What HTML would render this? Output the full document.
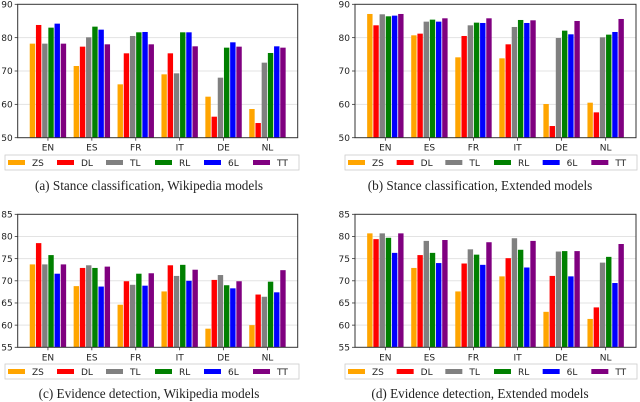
<!DOCTYPE html>
<html><head><meta charset="utf-8"><style>
body{margin:0;background:#fff;width:640px;height:402px;overflow:hidden}
svg{display:block}
</style></head><body>
<svg id="chart" width="640" height="402" xmlns="http://www.w3.org/2000/svg"></svg>
<script>
const categories = ["EN","ES","FR","IT","DE","NL"];
const seriesNames = ["ZS","DL","TL","RL","6L","TT"];
const seriesColors = ["#FFA500","#FF0000","#808080","#008000","#0000FF","#800080"];
const ticksA = [50,60,70,80,90];
const ticksC = [55,60,65,70,75,80,85];
const valuesA = [
 [78.2,71.5,66.0,69.0,62.3,58.6],
 [83.8,77.3,75.3,75.3,56.3,54.4],
 [78.2,80.1,80.5,69.3,68.0,72.5],
 [83.0,83.3,81.6,81.6,77.0,75.4],
 [84.2,82.4,81.7,81.6,78.6,77.4],
 [78.2,78.0,78.0,77.4,77.3,77.0]];
const valuesB = [
 [87.1,80.7,74.1,73.8,60.1,60.5],
 [83.7,81.2,80.5,78.0,53.5,57.6],
 [87.0,84.8,83.7,83.2,79.9,80.1],
 [86.4,85.4,84.5,85.3,82.1,80.9],
 [86.6,84.8,84.4,84.4,81.0,81.7],
 [87.1,85.8,85.8,85.2,85.0,85.6]];
const valuesC = [
 [73.7,68.8,64.6,67.6,59.2,60.0],
 [78.5,72.9,69.9,73.5,70.2,66.9],
 [73.7,73.5,69.1,71.1,71.3,66.4],
 [75.8,72.9,71.6,73.6,69.0,69.8],
 [71.6,68.7,68.9,70.0,68.3,67.4],
 [73.7,73.2,71.7,72.5,69.9,72.4]];
const valuesD = [
 [80.7,72.9,67.6,71.0,63.0,61.4],
 [79.4,75.8,73.9,75.1,71.1,64.0],
 [80.7,79.0,77.1,79.6,76.6,74.1],
 [79.7,76.3,75.9,77.0,76.7,75.4],
 [76.3,74.0,73.6,73.0,71.0,69.5],
 [80.7,79.2,78.7,79.0,76.7,78.3]];

const NS="http://www.w3.org/2000/svg";
const svg=document.getElementById('chart');
function mk(tag,attrs,parent){const e=document.createElementNS(NS,tag);for(const k in attrs)e.setAttribute(k,attrs[k]);(parent||svg).appendChild(e);return e;}

function panel(id,L,R,T,B,ticks,values,legY,legL,legR,caption,capX,capY){
  const g=mk('g',{});
  
  
  const ymin=ticks[0],ymax=ticks[ticks.length-1];
  const y=v=>B-(v-ymin)/(ymax-ymin)*(B-T);
  const W=R-L, pad=W*0.108, step=(W-2*pad)/(categories.length-1);
  const x=i=>L+pad+i*step;
  const bw=6.2;
  ticks.forEach(t=>{
    if(t!==ymin&&t!==ymax){const gl=mk('line',{x1:L,x2:R,y1:y(t),y2:y(t),stroke:'#e3e3e3','stroke-width':1},g);
    
    }
    mk('line',{x1:L-3,x2:L,y1:y(t),y2:y(t),stroke:'#333','stroke-width':0.8},g);
    const tl=mk('text',{x:L-5,y:y(t)+3.2,'text-anchor':'end','font-size':9,'font-family':'DejaVu Sans, Liberation Sans, sans-serif',fill:'#222'},g);
    tl.textContent=t;
    
    
  });
  values.forEach((ser,s)=>{
    ser.forEach((v,i)=>{
      const cx=x(i)+(s-2.5)*bw;
      const r=mk('rect',{x:cx-bw/2+0.4,y:y(v),width:bw-0.8,height:B-y(v),fill:seriesColors[s]},g);
      
      
    });
  });
  categories.forEach((c,i)=>{
    mk('line',{x1:x(i),x2:x(i),y1:B,y2:B+3,stroke:'#333','stroke-width':0.8},g);
    const t=mk('text',{x:x(i),y:B+13,'text-anchor':'middle','font-size':9,'font-family':'DejaVu Sans, Liberation Sans, sans-serif',fill:'#222'},g);
    t.textContent=c;
    
    
  });
  const fr=mk('rect',{x:L,y:T,width:W,height:B-T,fill:'none',stroke:'#333','stroke-width':1},g);
  
  
  const lg=mk('rect',{x:legL,y:legY,width:legR-legL,height:15,fill:'#fff',stroke:'#ccc','stroke-width':0.8},g);
  
  
  const es=(legR-legL)/6;
  seriesNames.forEach((n,s)=>{
    const sx=legL+3+s*es;
    const sw=mk('rect',{x:sx,y:legY+5,width:17,height:5,fill:seriesColors[s]},g);
    
    
    const t=mk('text',{x:sx+24,y:legY+11,'font-size':9,'font-family':'DejaVu Sans, Liberation Sans, sans-serif',fill:'#222'},g);
    t.textContent=n;
    
    
  });
  const cp=mk('text',{x:capX,y:capY,'text-anchor':'middle','font-size':13.2,'font-family':'Liberation Serif, serif',fill:'#222'},g);
  cp.textContent=caption;
  
  
}
panel('panel-a',17.7,297.7,4.3,137.7,ticksA,valuesA,155,5,299,'(a) Stance classification, Wikipedia models',149,190);
panel('panel-b',355,636,4.3,137.7,ticksA,valuesB,155,345,637,'(b) Stance classification, Extended models',480,190);
panel('panel-c',17.7,297.7,214.3,347.3,ticksC,valuesC,364,5,299,'(c) Evidence detection, Wikipedia models',149,398);
panel('panel-d',355,636,214.3,347.3,ticksC,valuesD,364,345,637,'(d) Evidence detection, Extended models',480,398);
</script>
</body></html>
